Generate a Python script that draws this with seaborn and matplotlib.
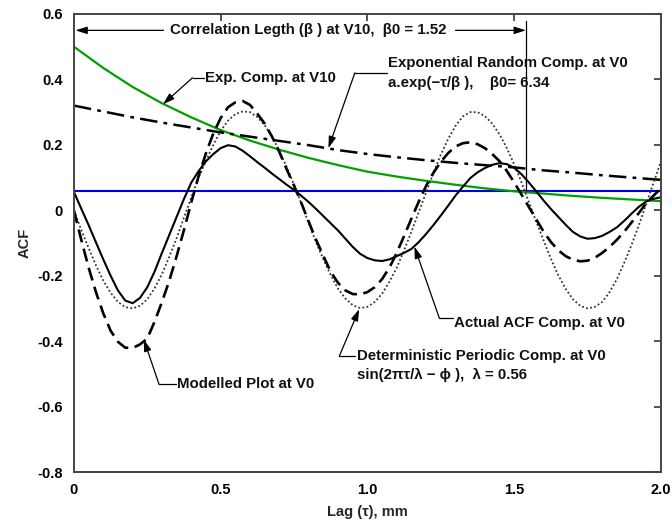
import numpy as np
import pandas as pd
import matplotlib
matplotlib.use("Agg")
import matplotlib.pyplot as plt
import seaborn as sns

# ---------------- data ----------------
lag = [0.000, 0.025, 0.050, 0.075, 0.100, 0.125, 0.150, 0.175, 0.200, 0.225,
       0.250, 0.275, 0.300, 0.325, 0.350, 0.375, 0.400, 0.425, 0.450, 0.475,
       0.500, 0.525, 0.550, 0.575, 0.600, 0.625, 0.650, 0.675, 0.700, 0.725,
       0.750, 0.775, 0.800, 0.825, 0.850, 0.875, 0.900, 0.925, 0.950, 0.975,
       1.000, 1.025, 1.050, 1.075, 1.100, 1.125, 1.150, 1.175, 1.200, 1.225,
       1.250, 1.275, 1.300, 1.325, 1.350, 1.375, 1.400, 1.425, 1.450, 1.475,
       1.500, 1.525, 1.550, 1.575, 1.600, 1.625, 1.650, 1.675, 1.700, 1.725,
       1.750, 1.775, 1.800, 1.825, 1.850, 1.875, 1.900, 1.925, 1.950, 1.975, 2.000]

actual_acf = [0.056, 0.005, -0.045, -0.098, -0.150, -0.200, -0.245, -0.276, -0.284, -0.268,
              -0.235, -0.187, -0.130, -0.075, -0.020, 0.035, 0.085, 0.120, 0.150, 0.172,
              0.190, 0.199, 0.195, 0.182, 0.165, 0.147, 0.130, 0.112, 0.095, 0.078,
              0.062, 0.044, 0.025, 0.004, -0.018, -0.040, -0.062, -0.087, -0.112, -0.133,
              -0.146, -0.153, -0.155, -0.150, -0.140, -0.130, -0.118, -0.097, -0.072, -0.045,
              -0.016, 0.014, 0.045, 0.072, 0.098, 0.116, 0.129, 0.139, 0.144, 0.141,
              0.130, 0.110, 0.085, 0.058, 0.030, 0.004, -0.020, -0.044, -0.066, -0.080,
              -0.087, -0.085, -0.078, -0.066, -0.052, -0.032, -0.010, 0.011, 0.027, 0.035, 0.040]

modelled = [0.000, -0.090, -0.175, -0.250, -0.315, -0.368, -0.402, -0.420, -0.421, -0.410,
            -0.392, -0.340, -0.280, -0.215, -0.140, -0.060, 0.025, 0.105, 0.175, 0.235,
            0.282, 0.315, 0.330, 0.334, 0.322, 0.295, 0.265, 0.225, 0.178, 0.125,
            0.075, 0.022, -0.035, -0.090, -0.140, -0.188, -0.222, -0.245, -0.256, -0.257,
            -0.250, -0.235, -0.210, -0.175, -0.130, -0.078, -0.025, 0.027, 0.075, 0.115,
            0.148, 0.175, 0.195, 0.205, 0.208, 0.202, 0.190, 0.172, 0.150, 0.120,
            0.085, 0.048, 0.010, -0.028, -0.065, -0.097, -0.122, -0.140, -0.151, -0.156,
            -0.154, -0.145, -0.130, -0.112, -0.090, -0.065, -0.037, -0.008, 0.022, 0.045, 0.067]

periodic = [0.000, -0.060, -0.115, -0.168, -0.215, -0.252, -0.280, -0.296, -0.300, -0.292,
            -0.272, -0.238, -0.195, -0.142, -0.085, -0.022, 0.040, 0.100, 0.152, 0.200,
            0.243, 0.274, 0.294, 0.302, 0.300, 0.285, 0.260, 0.225, 0.182, 0.132,
            0.078, 0.020, -0.040, -0.098, -0.150, -0.198, -0.240, -0.270, -0.290, -0.299,
            -0.295, -0.280, -0.255, -0.218, -0.175, -0.122, -0.065, -0.005, 0.055, 0.115,
            0.170, 0.218, 0.258, 0.287, 0.300, 0.300, 0.288, 0.265, 0.232, 0.190,
            0.140, 0.085, 0.025, -0.035, -0.092, -0.148, -0.198, -0.240, -0.272, -0.292,
            -0.300, -0.295, -0.280, -0.250, -0.210, -0.160, -0.105, -0.045, 0.020, 0.085, 0.150]

lag_coarse = [0.0, 0.1, 0.2, 0.3, 0.4, 0.5, 0.6, 0.7, 0.8, 0.9, 1.0,
              1.1, 1.2, 1.3, 1.4, 1.5, 1.6, 1.7, 1.8, 1.9, 2.0]
exp_v10 = [0.500, 0.435, 0.377, 0.327, 0.284, 0.245, 0.213, 0.185, 0.160, 0.138, 0.118,
           0.103, 0.090, 0.078, 0.067, 0.058, 0.051, 0.044, 0.038, 0.033, 0.028]
exp_random_v0 = [0.320, 0.302, 0.284, 0.268, 0.253, 0.238, 0.225, 0.212, 0.199, 0.184, 0.172,
                 0.162, 0.153, 0.145, 0.138, 0.131, 0.122, 0.115, 0.107, 0.100, 0.093]

baseline_x = [0.0, 2.0]
baseline_y = [0.058, 0.058]

corr_length = 1.54

xticks = [0, 0.5, 1.0, 1.5, 2.0]
xtick_labels = ["0", "0.5", "1.0", "1.5", "2.0"]
yticks = [-0.8, -0.6, -0.4, -0.2, 0, 0.2, 0.4, 0.6]
ytick_labels = ["-0.8", "-0.6", "-0.4", "-0.2", "0", "0.2", "0.4", "0.6"]

# ---------------- style ----------------
sns.set_theme(style="white")
plt.rcParams['font.family'] = ['Liberation Sans', 'DejaVu Sans']
FONT = ['Liberation Sans', 'DejaVu Sans']

fig = plt.figure(figsize=(6.72, 5.30), dpi=100)
ax = fig.add_axes([0.110, 0.1094, 0.8736, 0.8642])

df_fine = pd.DataFrame({"lag": lag, "actual": actual_acf,
                        "modelled": modelled, "periodic": periodic})
df_coarse = pd.DataFrame({"lag": lag_coarse, "exp_v10": exp_v10, "exp_rand": exp_random_v0})
df_base = pd.DataFrame({"lag": baseline_x, "val": baseline_y})

sns.lineplot(data=df_base, x="lag", y="val", ax=ax, color="#0000e6", lw=1.5)
sns.lineplot(data=df_coarse, x="lag", y="exp_v10", ax=ax, color="#00a000", lw=1.6)
sns.lineplot(data=df_coarse, x="lag", y="exp_rand", ax=ax, color="black", lw=1.8,
             linestyle=(0, (7, 2.5, 1.5, 2.5)))
sns.lineplot(data=df_fine, x="lag", y="periodic", ax=ax, color="#333333", lw=1.3,
             linestyle=(0, (1, 1.3)))
sns.lineplot(data=df_fine, x="lag", y="modelled", ax=ax, color="black", lw=1.9,
             linestyle=(0, (5, 2.5)))
sns.lineplot(data=df_fine, x="lag", y="actual", ax=ax, color="black", lw=1.5)

ax.set_xlim(0, 2.0)
ax.set_ylim(-0.8, 0.6)
ax.set_xticks(xticks)
ax.set_xticklabels(xtick_labels)
ax.set_yticks(yticks)
ax.set_yticklabels(ytick_labels)
ax.tick_params(direction="in", length=5, width=1.2, colors="#333333",
               top=True, right=True, labelsize=10.5, pad=8)
for lbl in ax.get_xticklabels() + ax.get_yticklabels():
    lbl.set_fontweight("bold")
    lbl.set_color("black")
for s in ax.spines.values():
    s.set_color("#444444")
    s.set_linewidth(1.4)

ax.set_xlabel("Lag (τ), mm", fontsize=10.5, fontweight="bold", labelpad=6)
ax.set_ylabel("ACF", fontsize=10.5, fontweight="bold", labelpad=4)

# ---------------- annotations ----------------
TXT = dict(fontsize=10.8, fontweight="bold", family=FONT, color="#111111")
ARW = dict(arrowstyle="-|>,head_length=0.7,head_width=0.22", color="black",
           lw=0.9, shrinkA=0, shrinkB=0, mutation_scale=10)
LN = dict(color="black", lw=0.9)

# correlation length
ax.plot([corr_length, corr_length], [0.058, 0.58], **LN)
ax.text(0.80, 0.55, "Correlation Legth (β ) at V10,  β0 = 1.52",
        ha="center", va="center", **TXT)
ax.annotate("", xy=(0.005, 0.55), xytext=(0.305, 0.55), arrowprops=ARW)
ax.annotate("", xy=(corr_length, 0.55), xytext=(1.30, 0.55), arrowprops=ARW)

# Exp comp at V10
ax.text(0.445, 0.405, "Exp. Comp. at V10", ha="left", va="center", **TXT)
ax.plot([0.404, 0.443], [0.405, 0.405], **LN)
ax.annotate("", xy=(0.303, 0.324), xytext=(0.404, 0.405), arrowprops=ARW)

# Exponential random comp at V0
ax.text(1.07, 0.45, "Exponential Random Comp. at V0", ha="left", va="center", **TXT)
ax.text(1.07, 0.39, "a.exp(−τ/β ),    β0= 6.34", ha="left", va="center", **TXT)
ax.plot([0.957, 1.065], [0.42, 0.42], **LN)
ax.annotate("", xy=(0.867, 0.19), xytext=(0.957, 0.42), arrowprops=ARW)

# Actual ACF
ax.text(1.295, -0.343, "Actual ACF Comp. at V0", ha="left", va="center", **TXT)
ax.plot([1.245, 1.29], [-0.33, -0.33], **LN)
ax.annotate("", xy=(1.16, -0.111), xytext=(1.245, -0.33), arrowprops=ARW)

# Deterministic periodic
ax.text(0.963, -0.446, "Deterministic Periodic Comp. at V0", ha="left", va="center", **TXT)
ax.text(0.963, -0.502, "sin(2πτ/λ − ϕ ),  λ = 0.56", ha="left", va="center", **TXT)
ax.plot([0.904, 0.957], [-0.446, -0.446], **LN)
ax.annotate("", xy=(0.972, -0.302), xytext=(0.904, -0.446), arrowprops=ARW)

# Modelled plot
ax.text(0.352, -0.532, "Modelled Plot at V0", ha="left", va="center", **TXT)
ax.plot([0.29, 0.347], [-0.532, -0.532], **LN)
ax.annotate("", xy=(0.238, -0.395), xytext=(0.29, -0.532), arrowprops=ARW)

fig.savefig("out.png", dpi=100)
